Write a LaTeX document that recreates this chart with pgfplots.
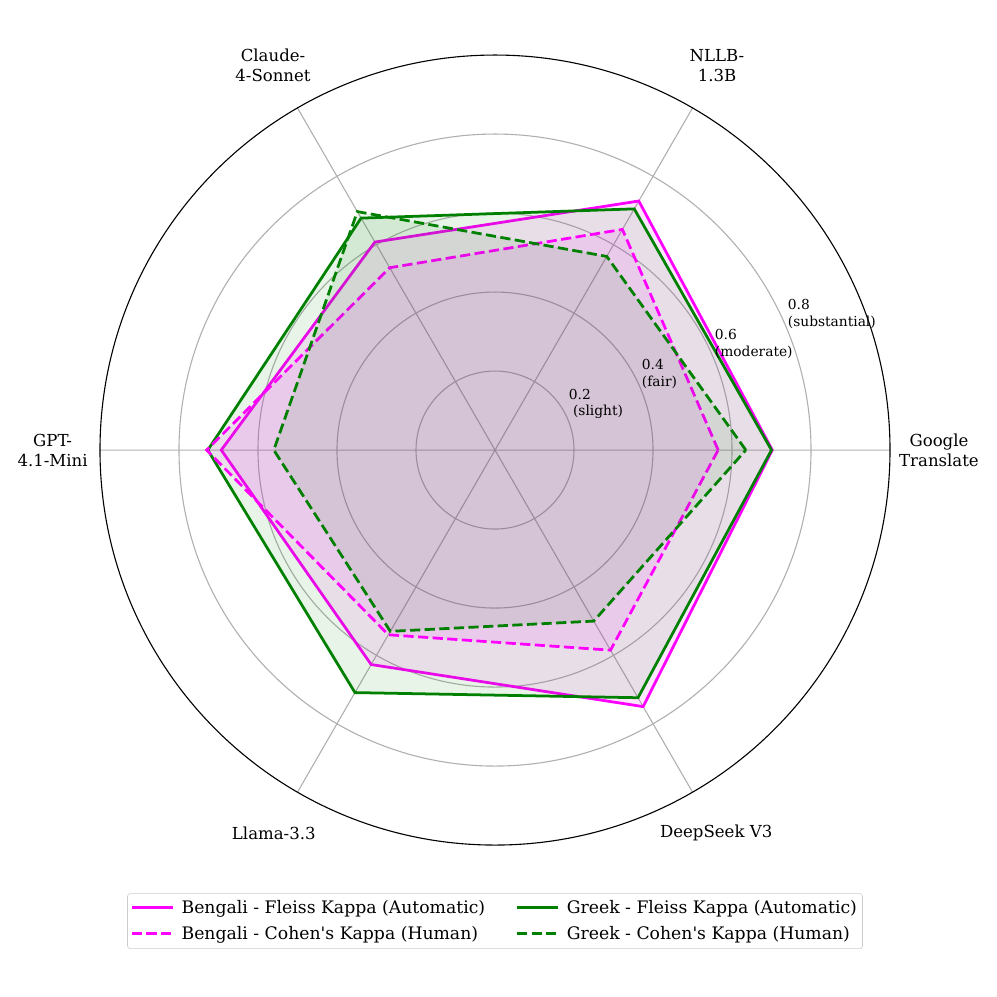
\documentclass[border=0pt]{standalone}
\usepackage{fontspec}
\setmainfont{DejaVu Serif}
\usepackage{pgfplots}
\pgfplotsset{compat=1.18}
\usepgfplotslibrary{polar}
\definecolor{gridgray}{HTML}{B0B0B0}
\definecolor{bengali}{HTML}{FF00FF}
\definecolor{greek}{HTML}{008000}

\tikzset{
  catlabel/.style={font=\fontsize{12}{14.5}\selectfont, align=center, anchor=center},
  rlabel/.style={font=\fontsize{10}{12}\selectfont, align=left, anchor=south west, inner sep=0.5pt},
}

\begin{document}
\begin{tikzpicture}
% page size: 997 px = 10 in, origin at the chart centre
\path[use as bounding box] (-4.965in,-5.486in) rectangle (5.035in,4.514in);
\begin{polaraxis}[
    at={(0,0)}, anchor=center,
    width=7.924in, height=7.924in, scale only axis,
    clip=false,
    xmin=0, xmax=360, ymin=0, ymax=1,
    xtick={0,60,...,300}, xticklabels={},
    ytick={0.2,0.4,0.6,0.8}, yticklabels={},
    tick style={draw=none},
    grid=major,
    major grid style={color=gridgray, line width=0.8pt},
    separate axis lines,
    x axis line style={black, line width=0.8pt},
    y axis line style={draw=none},
    legend columns=2,
    legend cell align=left,
    legend image code/.code={\draw[#1, fill=none, line width=2.2pt] (0pt,0.5pt) -- (30pt,0.5pt);},
    legend style={
        at={(0.5,-0.061)}, anchor=north,
        draw=black!20, fill=white, rounded corners=2pt,
        font=\fontsize{12.5}{15}\selectfont,
        inner xsep=2pt, inner ysep=3pt,
        row sep=4pt,
        /tikz/every odd column/.append style={column sep=3pt},
        /tikz/every even column/.append style={column sep=20pt},
    },
]
% Bengali - Fleiss Kappa (Automatic)
\addplot[bengali, line width=2pt, fill=bengali, fill opacity=0.09] coordinates {
    (0,0.702) (60,0.728) (120,0.608) (180,0.693) (240,0.627) (300,0.750) (360,0.702)
} -- cycle;
\addlegendentry{Bengali - Fleiss Kappa (Automatic)}
% Greek - Fleiss Kappa (Automatic)
\addplot[greek, line width=2pt, fill=greek, fill opacity=0.09] coordinates {
    (0,0.700) (60,0.705) (120,0.678) (180,0.727) (240,0.709) (300,0.724) (360,0.700)
} -- cycle;
\addlegendentry{Greek - Fleiss Kappa (Automatic)}
% Bengali - Cohen's Kappa (Human)
\addplot[bengali, line width=2pt, dash pattern=on 7.4pt off 3.2pt, fill=bengali, fill opacity=0.09] coordinates {
    (0,0.565) (60,0.645) (120,0.533) (180,0.730) (240,0.540) (300,0.585) (360,0.565)
} -- cycle;
\addlegendentry{Bengali - Cohen\textquotesingle s Kappa (Human)}
% Greek - Cohen's Kappa (Human)
\addplot[greek, line width=2pt, dash pattern=on 7.4pt off 3.2pt, fill=greek, fill opacity=0.09] coordinates {
    (0,0.635) (60,0.566) (120,0.697) (180,0.560) (240,0.530) (300,0.500) (360,0.635)
} -- cycle;
\addlegendentry{Greek - Cohen\textquotesingle s Kappa (Human)}

% category labels
\node[catlabel] at (axis cs:0,1.124)   {Google\\Translate};
\node[catlabel] at (axis cs:60,1.124)  {NLLB-\\1.3B};
\node[catlabel] at (axis cs:120,1.124) {Claude-\\4-Sonnet};
\node[catlabel] at (axis cs:180,1.12)  {GPT-\\4.1-Mini};
\node[catlabel] at (axis cs:240,1.12)  {Llama-3.3};
\node[catlabel] at (axis cs:300,1.12)  {DeepSeek V3};

% radial labels
\node[rlabel] at (axis cs:22.5,0.2) {0.2\\\hspace{0.3em}(slight)};
\node[rlabel] at (axis cs:22.5,0.4) {0.4\\(fair)};
\node[rlabel] at (axis cs:22.5,0.6) {0.6\\(moderate)};
\node[rlabel] at (axis cs:22.5,0.8) {0.8\\(substantial)};
\end{polaraxis}
\end{tikzpicture}
\end{document}
